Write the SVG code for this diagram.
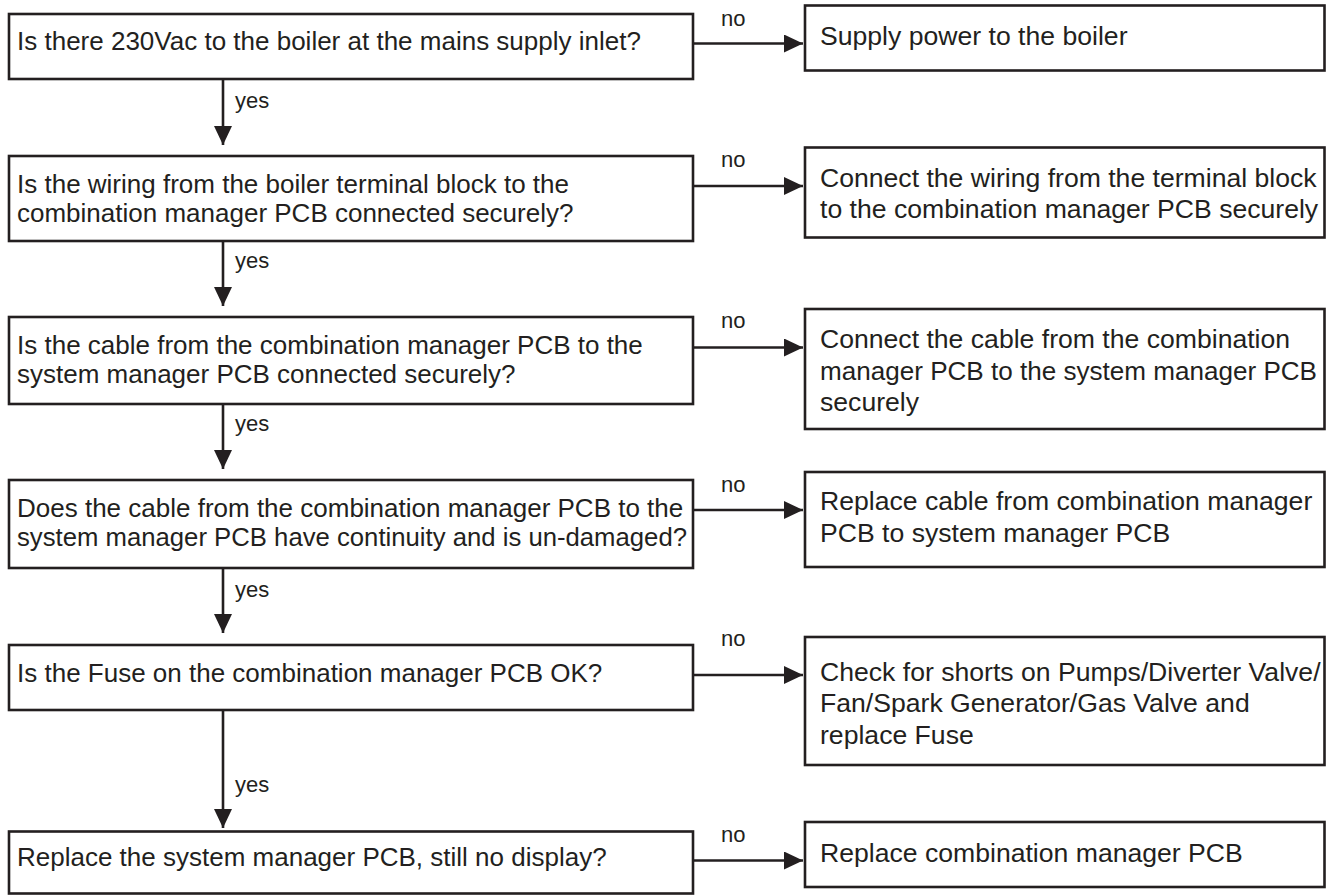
<svg xmlns="http://www.w3.org/2000/svg" width="1326" height="895" viewBox="0 0 1326 895">
<defs>
<style>
.box{fill:#fff;stroke:#231f20;stroke-width:2.6}
.t{font-family:"Liberation Sans",Arial,sans-serif;font-size:26px;fill:#231f20}
.r{font-family:"Liberation Sans",Arial,sans-serif;font-size:26.6px;fill:#231f20}
.lbl{font-family:"Liberation Sans",Arial,sans-serif;font-size:22px;fill:#231f20}
.ln{stroke:#231f20;stroke-width:2.6;fill:none}
</style>
<marker id="ah" viewBox="0 0 19 18" refX="19" refY="9" markerWidth="19" markerHeight="18" markerUnits="userSpaceOnUse" orient="auto">
<path d="M0,0 L19,9 L0,18 Z" fill="#231f20"/>
</marker>
</defs>
<rect width="1326" height="895" fill="#fff"/>
<g id="connectors">
<line class="ln" x1="223" y1="79" x2="223" y2="145" marker-end="url(#ah)"/>
<line class="ln" x1="223" y1="241" x2="223" y2="306" marker-end="url(#ah)"/>
<line class="ln" x1="223" y1="404" x2="223" y2="469" marker-end="url(#ah)"/>
<line class="ln" x1="223" y1="568" x2="223" y2="633" marker-end="url(#ah)"/>
<line class="ln" x1="223" y1="710" x2="223" y2="828" marker-end="url(#ah)"/>
<text class="lbl" x="235" y="108">yes</text>
<text class="lbl" x="235" y="268">yes</text>
<text class="lbl" x="235" y="431">yes</text>
<text class="lbl" x="235" y="597">yes</text>
<text class="lbl" x="235" y="792">yes</text>
<line class="ln" x1="693" y1="43.5" x2="803" y2="43.5" marker-end="url(#ah)"/>
<line class="ln" x1="693" y1="186" x2="803" y2="186" marker-end="url(#ah)"/>
<line class="ln" x1="693" y1="347.5" x2="803" y2="347.5" marker-end="url(#ah)"/>
<line class="ln" x1="693" y1="510" x2="803" y2="510" marker-end="url(#ah)"/>
<line class="ln" x1="693" y1="675" x2="803" y2="675" marker-end="url(#ah)"/>
<line class="ln" x1="693" y1="860.5" x2="803" y2="860.5" marker-end="url(#ah)"/>
<text class="lbl" x="721" y="26">no</text>
<text class="lbl" x="721" y="167">no</text>
<text class="lbl" x="721" y="328">no</text>
<text class="lbl" x="721" y="491.5">no</text>
<text class="lbl" x="721" y="646">no</text>
<text class="lbl" x="721" y="841.5">no</text>
</g>
<g id="q1"><rect class="box" x="9" y="14" width="684" height="65"/><text class="t" x="17" y="50">Is there 230Vac to the boiler at the mains supply inlet?</text></g>
<g id="q2"><rect class="box" x="9" y="156" width="684" height="85"/><text class="t" x="17" y="193">Is the wiring from the boiler terminal block to the</text><text class="t" x="17" y="221.5">combination manager PCB connected securely?</text></g>
<g id="q3"><rect class="box" x="9" y="317" width="684" height="87"/><text class="t" x="17" y="354">Is the cable from the combination manager PCB to the</text><text class="t" x="17" y="382.5">system manager PCB connected securely?</text></g>
<g id="q4"><rect class="box" x="9" y="480" width="684" height="88"/><text class="t" x="17" y="517">Does the cable from the combination manager PCB to the</text><text class="t" x="17" y="545.5" textLength="670" lengthAdjust="spacingAndGlyphs">system manager PCB have continuity and is un-damaged?</text></g>
<g id="q5"><rect class="box" x="9" y="645" width="684" height="65"/><text class="t" x="17" y="681.5">Is the Fuse on the combination manager PCB OK?</text></g>
<g id="q6"><rect class="box" x="9" y="831.5" width="684" height="62"/><text class="t" x="17" y="866">Replace the system manager PCB, still no display?</text></g>
<g id="a1"><rect class="box" x="805" y="5.5" width="519.5" height="65"/><text class="r" x="820" y="45">Supply power to the boiler</text></g>
<g id="a2"><rect class="box" x="805" y="147.5" width="519.5" height="90"/><text class="r" x="820" y="186.5">Connect the wiring from the terminal block</text><text class="r" x="820" y="218">to the combination manager PCB securely</text></g>
<g id="a3"><rect class="box" x="805" y="309" width="519.5" height="120"/><text class="r" x="820" y="348">Connect the cable from the combination</text><text class="r" x="820" y="379.5" textLength="497" lengthAdjust="spacingAndGlyphs">manager PCB to the system manager PCB</text><text class="r" x="820" y="411">securely</text></g>
<g id="a4"><rect class="box" x="805" y="472" width="519.5" height="95"/><text class="r" x="820" y="510">Replace cable from combination manager</text><text class="r" x="820" y="541.5">PCB to system manager PCB</text></g>
<g id="a5"><rect class="box" x="805" y="637" width="519.5" height="128"/><text class="r" x="820" y="680.5">Check for shorts on Pumps/Diverter Valve/</text><text class="r" x="820" y="712">Fan/Spark Generator/Gas Valve and</text><text class="r" x="820" y="743.5">replace Fuse</text></g>
<g id="a6"><rect class="box" x="805" y="822" width="519.5" height="65"/><text class="r" x="820" y="861.5">Replace combination manager PCB</text></g>
</svg>
